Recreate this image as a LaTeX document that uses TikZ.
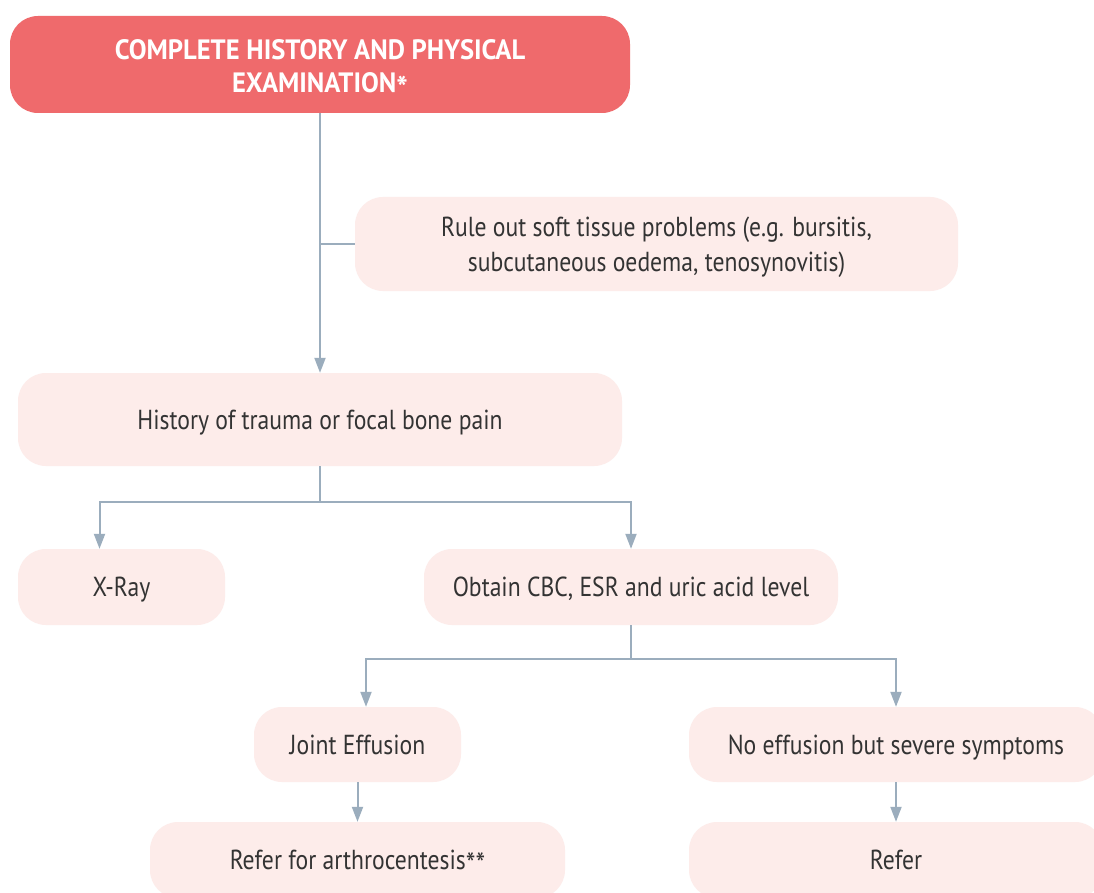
\documentclass[tikz,border=0pt]{standalone}
\usepackage{fontspec}
\setmainfont{PT Sans}[FakeStretch=0.86]
\newfontfamily\headfont{PT Sans}[FakeStretch=0.95]
\usetikzlibrary{arrows.meta,calc}
\definecolor{headred}{HTML}{EF6A6C}
\definecolor{boxpink}{HTML}{FDECEA}
\definecolor{linkgrey}{HTML}{9BADBD}
\definecolor{txtdark}{HTML}{333333}
% footnote star, set at full size near the cap line
\newcommand{\fnstar}{\raisebox{-0.22em}{\fontsize{32}{32}\selectfont *}}
\tikzset{
  box/.style={draw=none, fill=boxpink, rounded corners=28pt, align=center,
    text=txtdark, font=\fontsize{27.5}{35}\selectfont, inner sep=0pt, text depth=0pt},
  headbox/.style={box, fill=headred, text=white, font=\headfont\fontsize{28}{33}\selectfont\bfseries},
  link/.style={draw=linkgrey, line width=2pt},
  arr/.style={link, -{Triangle[length=15pt,width=11pt]}}
}
\begin{document}
\begin{tikzpicture}[x=1pt, y=-1pt]
  \useasboundingbox (0,0) rectangle (1094,893);
  \clip (0,0) rectangle (1094,893);
  \fill[white] (0,0) rectangle (1094,893);

  % boxes
  \node[headbox, minimum width=620pt, minimum height=97pt, text height=57pt] (top) at (320,64.5)
    {COMPLETE HISTORY AND PHYSICAL\\EXAMINATION\fnstar};
  \node[box, minimum width=603pt, minimum height=94pt] (rule) at (656.5,244)
    {Rule out soft tissue problems (e.g. bursitis,\\subcutaneous oedema, tenosynovitis)};
  \node[box, minimum width=604pt, minimum height=93pt] (hist) at (320,419.5)
    {History of trauma or focal bone pain};
  \node[box, minimum width=207pt, minimum height=76pt] (xray) at (121.5,587) {X-Ray};
  \node[box, minimum width=414pt, minimum height=76pt] (cbc) at (631,587)
    {Obtain CBC, ESR and uric acid level};
  \node[box, minimum width=207pt, minimum height=75pt] (joint) at (357.5,744.5)
    {Joint Effusion};
  \node[box, minimum width=414pt, minimum height=75pt] (noeff) at (896,744.5)
    {No effusion but severe symptoms};
  \node[box, minimum width=415pt, minimum height=76pt] (arth) at (357.5,860)
    {Refer for arthrocentesis\fnstar\fnstar};
  \node[box, minimum width=414pt, minimum height=76pt] (refer) at (896,860)
    {Refer};

  % connectors
  \draw[arr] (top.south) -- (hist.north);
  \draw[link] (rule.west) -- (rule.west -| top.south);
  \coordinate (split1) at ($(hist.south)+(0,36)$);
  \draw[link] (hist.south) -- (split1);
  \draw[arr] (split1) -| ([xshift=-22pt]xray.north);
  \draw[arr] (split1) -| (cbc.north);
  \coordinate (split2) at ($(cbc.south)+(0,34)$);
  \draw[link] (cbc.south) -- (split2);
  \draw[arr] (split2) -| ([xshift=8.5pt]joint.north);
  \draw[arr] (split2) -| (noeff.north);
  \draw[arr] (joint.south) -- (arth.north);
  \draw[arr] (noeff.south) -- (refer.north);
\end{tikzpicture}
\end{document}
